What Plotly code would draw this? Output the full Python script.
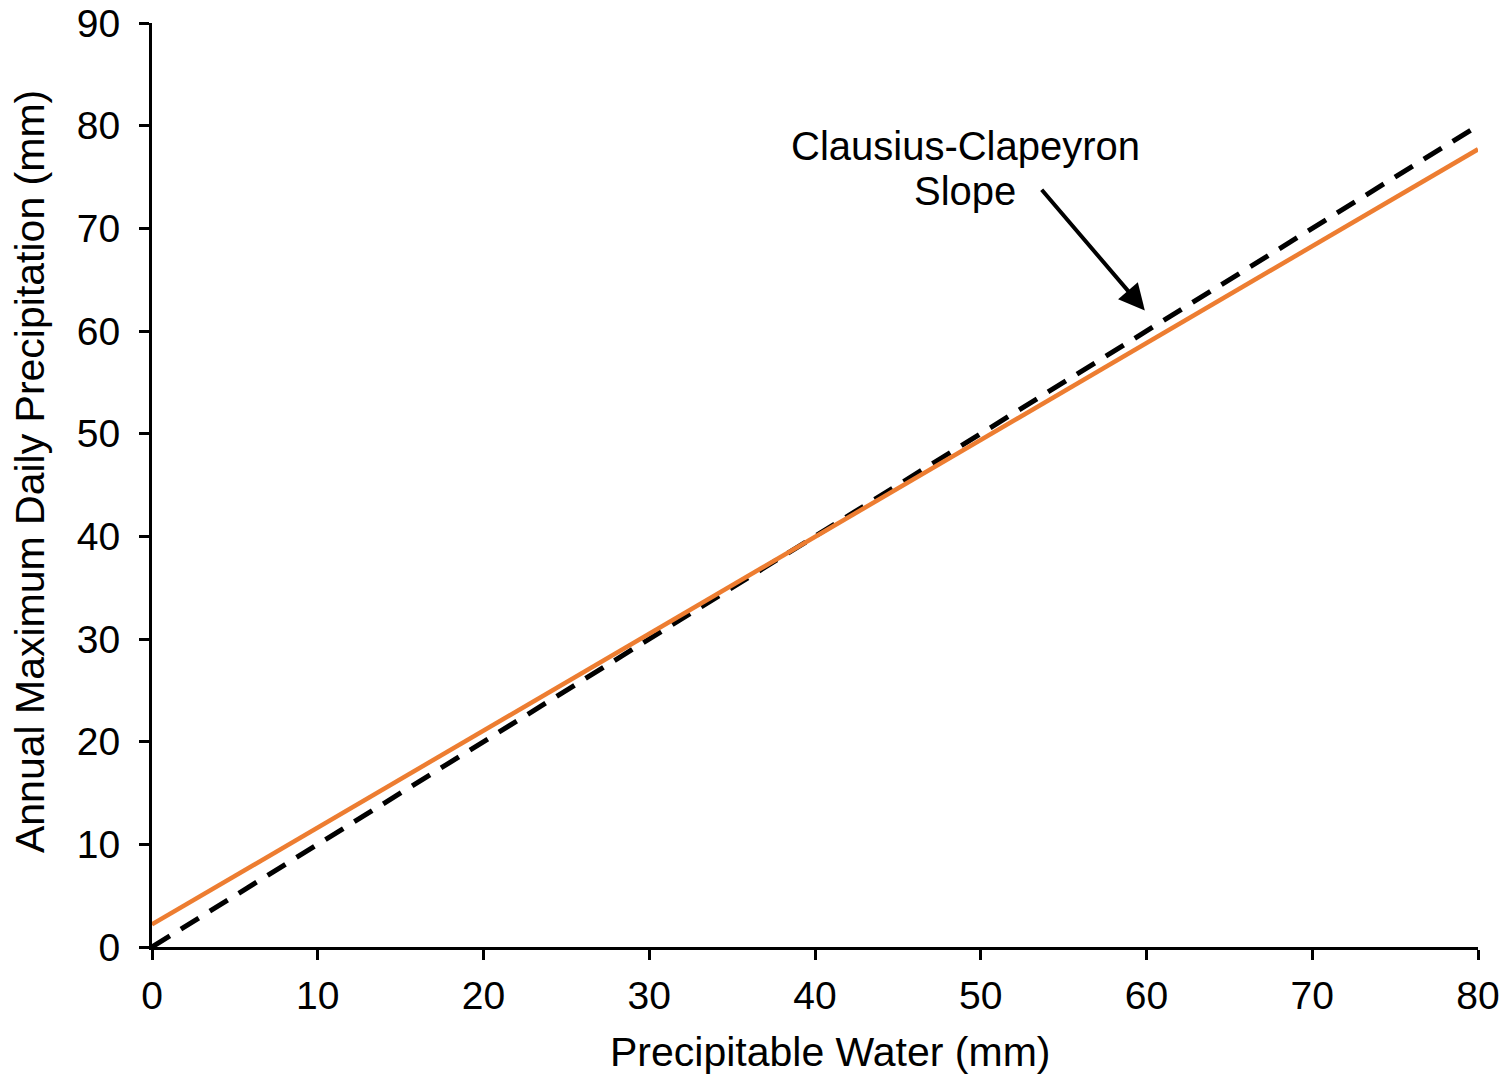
import plotly.graph_objects as go

# Data
pw = [0, 80]
fit_precip = [2.2, 77.7]
cc_x = [0, 80]
cc_precip = [0, 80]

x_ticks = [0, 10, 20, 30, 40, 50, 60, 70, 80]
y_ticks = [0, 10, 20, 30, 40, 50, 60, 70, 80, 90]

x_title = "Precipitable Water (mm)"
y_title = "Annual Maximum Daily Precipitation (mm)"

FONT = "Liberation Sans, Arial, sans-serif"

fig = go.Figure()
fig.add_trace(go.Scatter(x=cc_x, y=cc_precip, mode="lines",
                         line=dict(color="black", width=5, dash="21px,13px"),
                         showlegend=False, hoverinfo="skip"))
fig.add_trace(go.Scatter(x=pw, y=fit_precip, mode="lines",
                         line=dict(color="#ED7D31", width=4.5),
                         showlegend=False, hoverinfo="skip"))

fig.add_annotation(x=49.05, y=78.0, xref="x", yref="y",
                   text="Clausius-Clapeyron", showarrow=False,
                   font=dict(family=FONT, size=40, color="black"))
fig.add_annotation(x=49.05, y=73.6, xref="x", yref="y",
                   text="Slope", showarrow=False,
                   font=dict(family=FONT, size=40, color="black"))
fig.add_annotation(x=59.9, y=62.0, ax=53.6, ay=73.9,
                   xref="x", yref="y", axref="x", ayref="y",
                   text="", showarrow=True, arrowhead=2, arrowsize=1.3,
                   arrowwidth=4, arrowcolor="black")

# axis titles
fig.add_annotation(x=0.511, y=-0.1136, xref="paper", yref="paper",
                   xanchor="center", yanchor="middle", text=x_title,
                   showarrow=False, font=dict(family=FONT, size=41, color="black"))
fig.add_annotation(x=-0.092, y=0.514, xref="paper", yref="paper",
                   xanchor="center", yanchor="middle", text=y_title,
                   textangle=-90, showarrow=False,
                   font=dict(family=FONT, size=41, color="black"))

fig.update_layout(
    width=1507, height=1076,
    margin=dict(l=152, r=29, t=23, b=129),
    plot_bgcolor="white", paper_bgcolor="white",
    font=dict(family=FONT, color="black"),
)
fig.update_xaxes(range=[0, 80], tickvals=x_ticks, ticks="outside", ticklen=10,
                 tickwidth=3, tickcolor="black", showline=True, linewidth=3,
                 linecolor="black", showgrid=False, zeroline=False,
                 automargin=False, ticklabelstandoff=2, ticklabeloverflow="allow",
                 tickfont=dict(size=39, family=FONT))
fig.update_yaxes(range=[0, 90], tickvals=y_ticks, ticks="outside", ticklen=10,
                 tickwidth=3, tickcolor="black", showline=True, linewidth=3,
                 linecolor="black", showgrid=False, zeroline=False,
                 automargin=False, ticklabelstandoff=11, ticklabeloverflow="allow",
                 tickfont=dict(size=39, family=FONT))

fig.write_html("out.html", config={"displayModeBar": False},
               post_script="document.body.style.margin='0';document.body.style.overflow='hidden';")
